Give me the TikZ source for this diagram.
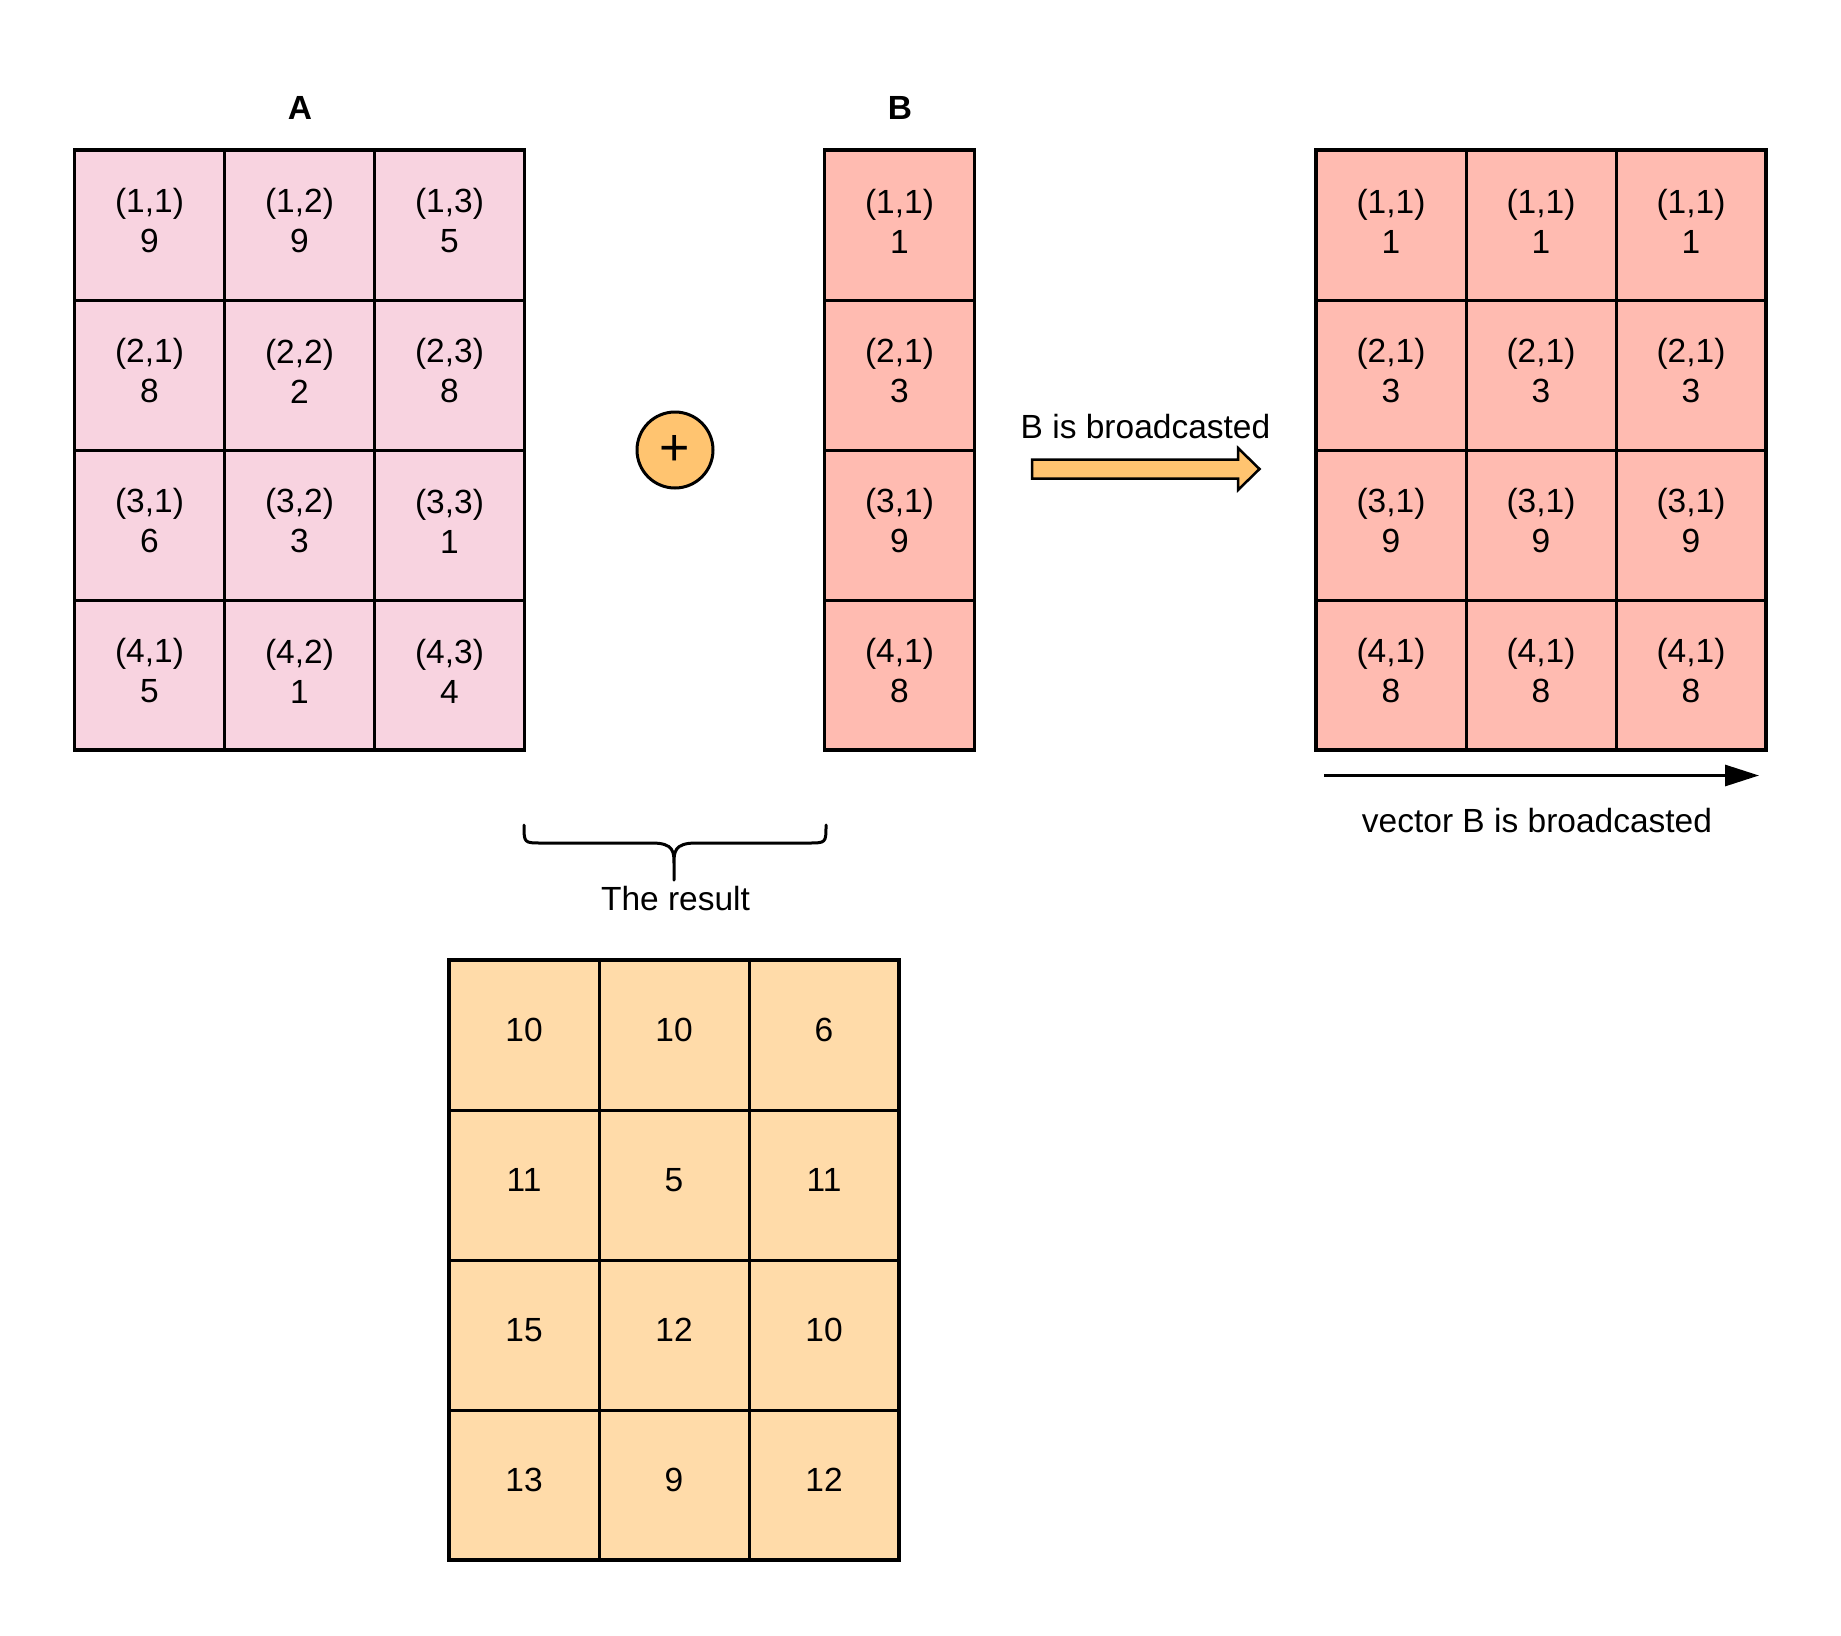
\documentclass[tikz,border=0pt]{standalone}
\usepackage{fontspec}
\setmainfont{Liberation Sans}
\usetikzlibrary{arrows.meta}
\definecolor{apink}{HTML}{F8D3E0}
\definecolor{bsalmon}{HTML}{FFBBB1}
\definecolor{rpeach}{HTML}{FFDBA9}
\definecolor{orng}{HTML}{FFC470}
\begin{document}
\begin{tikzpicture}[x=1pt,y=-1pt,
 cellbox/.style={draw=black, line width=3pt, minimum width=150pt, minimum height=150pt, inner sep=0pt, outer sep=0pt},
 celltext/.style={align=center, font=\fontsize{33.5}{40}\selectfont, inner sep=0pt},
 lbl/.style={font=\fontsize{33.5}{40}\selectfont, inner sep=0pt},
 frame/.style={draw=black, line width=3.5pt}]
\useasboundingbox (0,0) rectangle (1841,1635);
% Matrix A
\foreach \r/\va/\vb/\vc in {1/9/9/5,2/8/2/8,3/6/3/1,4/5/1/4}{
  \foreach \c/\v in {1/\va,2/\vb,3/\vc}{
    \node[cellbox, fill=apink] (a-\r-\c) at ({-0.5+150*\c},{75+150*\r}) {};
    \node[celltext] (at-\r-\c) at ([yshift=4pt]a-\r-\c.center) {(\r,\c)\\\v};
  }
}
\draw[frame] (a-1-1.north west) rectangle (a-4-3.south east);
\node[lbl, font=\fontsize{33.5}{40}\selectfont\bfseries] (labA) at (300,108) {A};
% Vector B
\foreach \r/\v in {1/1,2/3,3/9,4/8}{
  \node[cellbox, fill=bsalmon] (b-\r) at (899.5,{75+150*\r}) {};
  \node[celltext] (bt-\r) at ([yshift=4pt]b-\r.center) {(\r,1)\\\v};
}
\draw[frame] (b-1.north west) rectangle (b-4.south east);
\node[lbl, font=\fontsize{33.5}{40}\selectfont\bfseries] (labB) at (900,108) {B};
% plus
\node[circle, draw=black, line width=3pt, fill=orng, minimum size=76pt, inner sep=0pt, font=\fontsize{52}{52}\selectfont] (plus) at (675,450) {+};
% broadcast fat arrow
\draw[fill=orng, line width=2.5pt, line join=miter] (1032,459.5) -- (1238,459.5) -- (1238,448) -- (1259.5,469) -- (1238,490) -- (1238,478.5) -- (1032,478.5) -- cycle;
\node[lbl] (bcast) at (1145.5,426.5) {B is broadcasted};
% broadcasted matrix
\foreach \r/\v in {1/1,2/3,3/9,4/8}{
  \foreach \c in {1,2,3}{
    \node[cellbox, fill=bsalmon] (m-\r-\c) at ({1241+150*\c},{75+150*\r}) {};
    \node[celltext] (mt-\r-\c) at ([yshift=4pt]m-\r-\c.center) {(\r,1)\\\v};
  }
}
\draw[frame] (m-1-1.north west) rectangle (m-4-3.south east);
\coordinate (arrS) at (1324,775.5);
\coordinate (arrE) at (1759,775.5);
\draw[line width=3pt, -{Triangle[length=34pt,width=21pt]}] (arrS) -- (arrE);
\node[lbl] (vbcast) at (1537,821) {vector B is broadcasted};
% brace
\draw[line width=3pt, line cap=round] (524,825) .. controls (524,843) .. (542,843) -- (652,843) .. controls (674,843) and (674,852) .. (674,864) -- (674,880)
  (826,825) .. controls (826,843) .. (808,843) -- (696,843) .. controls (674,843) and (674,852) .. (674,864);
\node[lbl] (res) at (675.5,898.5) {The result};
% result matrix
\foreach \r/\va/\vb/\vc in {1/10/10/6,2/11/5/11,3/15/12/10,4/13/9/12}{
  \foreach \c/\v in {1/\va,2/\vb,3/\vc}{
    \node[cellbox, fill=rpeach] (r-\r-\c) at ({374+150*\c},{885+150*\r}) {};
    \node[celltext] (rt-\r-\c) at ([yshift=5pt]r-\r-\c.center) {\v};
  }
}
\draw[frame] (r-1-1.north west) rectangle (r-4-3.south east);
\end{tikzpicture}
\end{document}
